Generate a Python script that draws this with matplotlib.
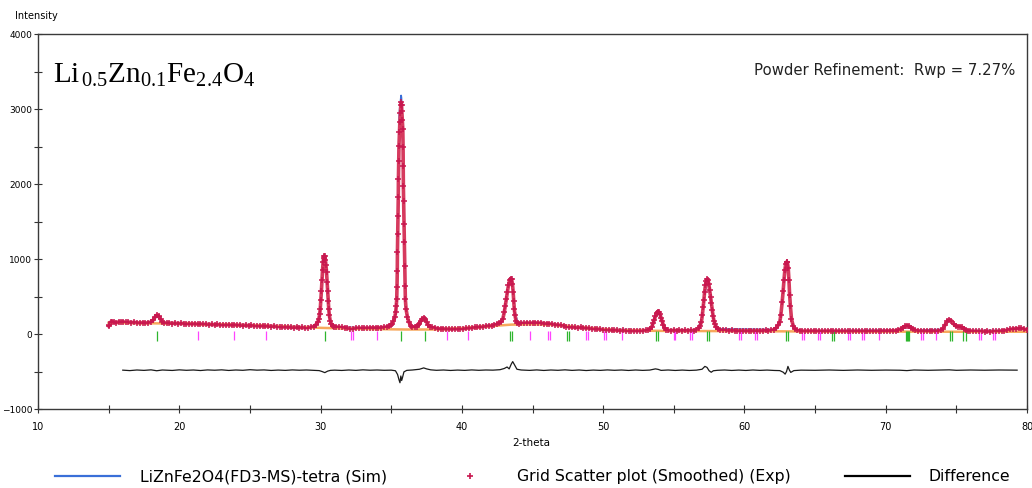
import matplotlib
matplotlib.use("Agg")
import matplotlib.pyplot as plt
from matplotlib.lines import Line2D
import numpy as np

plt.rcParams['mathtext.fontset'] = 'custom'
plt.rcParams['mathtext.rm'] = 'Liberation Serif'
plt.rcParams['mathtext.it'] = 'Liberation Serif:italic'
plt.rcParams['font.family'] = 'DejaVu Sans'

exp_pts = [
    (15.00, 105), (15.06, 120), (15.15, 160), (15.25, 165), (15.40, 158), (15.55, 150), (15.70, 162),
    (15.85, 158), (16.00, 165), (16.20, 155), (16.40, 160), (16.60, 152), (16.80, 156), (17.00, 150),
    (17.20, 148), (17.40, 152), (17.60, 147), (17.80, 150), (18.00, 160), (18.15, 185), (18.30, 230),
    (18.42, 253), (18.55, 235), (18.68, 195), (18.80, 165), (18.95, 150), (19.10, 145), (19.30, 148),
    (19.50, 140), (19.70, 145), (19.90, 138), (20.10, 142), (20.30, 140), (20.50, 135), (20.70, 140),
    (20.90, 133), (21.10, 138), (21.30, 130), (21.50, 135), (21.70, 128), (21.90, 132), (22.10, 125),
    (22.30, 130), (22.50, 122), (22.70, 128), (22.90, 120), (23.10, 125), (23.30, 120), (23.50, 126),
    (23.70, 118), (23.90, 124), (24.10, 115), (24.30, 120), (24.50, 113), (24.70, 118), (24.90, 110),
    (25.10, 115), (25.30, 108), (25.50, 112), (25.70, 105), (25.90, 110), (26.10, 103), (26.30, 108),
    (26.50, 100), (26.70, 104), (26.90, 97), (27.10, 100), (27.30, 92), (27.50, 96), (27.70, 88),
    (27.90, 92), (28.10, 85), (28.30, 90), (28.50, 84), (28.70, 88), (28.90, 82), (29.10, 86),
    (29.30, 90), (29.50, 100), (29.65, 120), (29.80, 160), (29.88, 200), (29.94, 270), (29.98, 340),
    (30.02, 450), (30.06, 580), (30.10, 720), (30.14, 850), (30.18, 960), (30.22, 1020), (30.26, 1040),
    (30.30, 1035), (30.34, 990), (30.38, 920), (30.42, 830), (30.46, 700), (30.50, 570), (30.54, 440),
    (30.58, 330), (30.62, 250), (30.68, 180), (30.75, 140), (30.85, 110), (30.95, 100), (31.10, 95),
    (31.30, 90), (31.50, 88), (31.70, 84), (31.90, 80), (32.10, 70), (32.30, 72), (32.50, 78),
    (32.70, 80), (32.90, 76), (33.10, 80), (33.30, 78), (33.50, 82), (33.70, 85), (33.90, 80),
    (34.10, 84), (34.30, 86), (34.50, 90), (34.70, 95), (34.85, 105), (35.00, 125), (35.08, 135),
    (35.16, 170), (35.25, 222), (35.32, 300), (35.36, 380), (35.39, 467), (35.41, 622), (35.43, 844),
    (35.44, 1089), (35.46, 1333), (35.48, 1578), (35.50, 1822), (35.51, 2067), (35.53, 2311),
    (35.55, 2511), (35.58, 2689), (35.61, 2822), (35.65, 2950), (35.68, 3050), (35.71, 3090),
    (35.73, 3060), (35.75, 2978), (35.79, 2850), (35.82, 2733), (35.84, 2489), (35.85, 2244),
    (35.86, 1978), (35.88, 1778), (35.91, 1467), (35.93, 1222), (35.96, 911), (35.98, 644),
    (36.00, 467), (36.05, 333), (36.15, 222), (36.25, 160), (36.38, 111), (36.50, 95), (36.65, 92),
    (36.80, 100), (36.90, 115), (37.00, 140), (37.10, 175), (37.20, 205), (37.30, 215), (37.40, 200),
    (37.50, 160), (37.60, 125), (37.75, 100), (37.90, 88), (38.10, 80), (38.30, 72), (38.50, 68),
    (38.70, 70), (38.90, 65), (39.10, 68), (39.30, 64), (39.50, 70), (39.70, 66), (39.90, 72),
    (40.10, 70), (40.30, 76), (40.50, 80), (40.70, 85), (40.90, 88), (41.10, 92), (41.30, 95),
    (41.50, 98), (41.70, 102), (41.90, 108), (42.10, 112), (42.30, 120), (42.50, 130), (42.65, 145),
    (42.77, 160), (42.90, 200), (43.00, 289), (43.08, 380), (43.15, 467), (43.22, 560), (43.30, 650),
    (43.38, 715), (43.45, 740), (43.52, 730), (43.58, 670), (43.63, 560), (43.67, 440), (43.71, 333),
    (43.76, 250), (43.83, 178), (43.92, 150), (44.06, 140), (44.20, 145), (44.40, 142), (44.60, 150),
    (44.80, 145), (45.00, 148), (45.20, 150), (45.40, 145), (45.60, 148), (45.80, 140), (46.00, 138),
    (46.20, 135), (46.40, 130), (46.60, 126), (46.80, 120), (47.00, 115), (47.20, 108), (47.40, 100),
    (47.60, 95), (47.80, 92), (48.00, 90), (48.20, 85), (48.40, 88), (48.60, 82), (48.80, 80),
    (49.00, 76), (49.20, 72), (49.40, 70), (49.60, 66), (49.80, 62), (50.00, 60), (50.20, 58),
    (50.40, 55), (50.60, 52), (50.80, 48), (51.00, 50), (51.20, 46), (51.40, 48), (51.60, 44),
    (51.80, 46), (52.00, 42), (52.20, 45), (52.40, 42), (52.60, 46), (52.80, 44), (53.00, 48),
    (53.20, 52), (53.35, 70), (53.45, 100), (53.55, 150), (53.62, 190), (53.70, 240), (53.78, 280),
    (53.86, 300), (53.94, 295), (54.02, 265), (54.10, 215), (54.18, 170), (54.26, 120), (54.35, 75),
    (54.45, 55), (54.60, 48), (54.80, 45), (55.00, 50), (55.20, 46), (55.40, 48), (55.60, 44),
    (55.80, 47), (56.00, 45), (56.20, 48), (56.40, 46), (56.60, 55), (56.75, 75), (56.85, 110),
    (56.95, 156), (57.02, 250), (57.08, 360), (57.13, 450), (57.18, 560), (57.24, 650), (57.30, 710),
    (57.36, 730), (57.42, 720), (57.48, 670), (57.54, 590), (57.60, 500), (57.66, 410), (57.72, 320),
    (57.78, 240), (57.84, 180), (57.90, 140), (58.00, 90), (58.13, 67), (58.30, 52), (58.50, 48),
    (58.70, 50), (58.90, 45), (59.10, 48), (59.30, 44), (59.50, 46), (59.70, 42), (59.90, 45),
    (60.10, 40), (60.30, 44), (60.50, 41), (60.70, 45), (60.90, 42), (61.10, 46), (61.30, 43),
    (61.50, 47), (61.70, 44), (61.90, 50), (62.10, 58), (62.25, 80), (62.38, 115), (62.50, 156),
    (62.58, 260), (62.67, 422), (62.74, 570), (62.80, 720), (62.86, 850), (62.92, 930), (62.98, 960),
    (63.04, 955), (63.10, 880), (63.15, 720), (63.20, 520), (63.25, 380), (63.33, 200), (63.45, 110),
    (63.57, 67), (63.70, 50), (63.90, 42), (64.10, 40), (64.30, 38), (64.50, 42), (64.70, 38),
    (64.90, 41), (65.10, 37), (65.30, 40), (65.50, 36), (65.70, 40), (65.90, 38), (66.10, 42),
    (66.30, 37), (66.50, 40), (66.70, 36), (66.90, 39), (67.10, 35), (67.30, 38), (67.50, 35),
    (67.70, 39), (67.90, 36), (68.10, 40), (68.30, 35), (68.50, 38), (68.70, 34), (68.90, 37),
    (69.10, 35), (69.30, 39), (69.50, 36), (69.70, 40), (69.90, 38), (70.10, 42), (70.30, 40),
    (70.50, 45), (70.70, 44), (70.90, 52), (71.05, 65), (71.20, 85), (71.35, 102), (71.50, 112),
    (71.65, 105), (71.80, 85), (71.95, 62), (72.10, 48), (72.30, 42), (72.50, 40), (72.70, 38),
    (72.90, 40), (73.10, 37), (73.30, 40), (73.50, 38), (73.70, 42), (73.90, 48), (74.05, 70),
    (74.20, 120), (74.35, 170), (74.50, 190), (74.65, 178), (74.80, 135), (74.95, 108), (75.10, 100),
    (75.25, 98), (75.40, 90), (75.55, 70), (75.70, 52), (75.85, 44), (76.00, 40), (76.20, 36),
    (76.40, 38), (76.60, 34), (76.80, 37), (77.00, 33), (77.20, 36), (77.40, 32), (77.60, 35),
    (77.80, 34), (78.00, 38), (78.20, 40), (78.40, 45), (78.60, 52), (78.80, 62), (79.00, 68),
    (79.20, 72), (79.40, 74), (79.60, 76), (79.80, 66), (80.00, 55),
]

# simulated profile (blue)
sim_pts = [
    (15.0, 150), (18.0, 150), (18.2, 190), (18.42, 250), (18.65, 190), (18.9, 148), (22.0, 128),
    (26.0, 108), (29.5, 92), (29.8, 140), (29.94, 260), (30.02, 440), (30.10, 700), (30.18, 950),
    (30.26, 1050), (30.34, 1000), (30.42, 830), (30.50, 580), (30.58, 340), (30.66, 200), (30.8, 120),
    (31.0, 95), (33.0, 80), (34.8, 95), (35.1, 140), (35.25, 225), (35.35, 350), (35.42, 700),
    (35.46, 1300), (35.50, 1900), (35.53, 2400), (35.57, 2900), (35.62, 3050), (35.66, 3100),
    (35.70, 3180), (35.72, 3150), (35.75, 3000), (35.80, 2800), (35.84, 2450), (35.87, 1950),
    (35.90, 1500), (35.95, 950), (36.00, 480), (36.06, 320), (36.16, 210), (36.35, 115), (36.6, 92),
    (36.9, 112), (37.1, 175), (37.3, 215), (37.5, 160), (37.75, 98), (38.2, 75), (40.0, 70),
    (42.5, 130), (42.9, 200), (43.1, 420), (43.3, 660), (43.45, 745), (43.6, 620), (43.75, 300),
    (43.95, 150), (45.0, 148), (47.0, 115), (50.0, 60), (53.2, 52), (53.45, 100), (53.7, 240),
    (53.88, 300), (54.1, 210), (54.35, 75), (54.6, 48), (56.6, 55), (56.95, 160), (57.13, 450),
    (57.36, 735), (57.6, 500), (57.84, 180), (58.13, 67), (62.1, 58), (62.5, 160), (62.74, 570),
    (62.98, 965), (63.15, 720), (63.33, 200), (63.57, 67), (64.0, 40), (70.9, 50), (71.5, 112),
    (72.1, 48), (74.0, 60), (74.5, 192), (74.95, 108), (75.4, 90), (75.85, 44), (78.4, 45),
    (79.4, 74), (80.0, 55),
]

# background (orange)
bg_tt = [15.0, 17.0, 20.0, 25.0, 28.0, 30.0, 32.0, 34.0, 36.0, 38.0, 40.0, 42.0, 43.5, 45.0,
         46.5, 48.0, 50.0, 52.0, 55.0, 60.0, 65.0, 70.0, 75.0, 80.0]
bg_int = [150, 145, 138, 115, 95, 82, 72, 65, 60, 60, 75, 105, 125, 130,
          122, 95, 60, 45, 40, 38, 33, 32, 30, 30]

# difference curve
diff_pts = [
    (16.0, -482), (16.5, -488), (17.0, -480), (17.5, -485), (18.0, -478), (18.4, -490), (18.8, -480),
    (19.5, -486), (20.0, -478), (20.5, -484), (21.0, -480), (21.5, -487), (22.0, -479), (22.5, -483),
    (23.0, -478), (23.5, -486), (24.0, -480), (24.5, -484), (25.0, -476), (25.5, -482), (26.0, -479),
    (26.5, -486), (27.0, -481), (27.5, -485), (28.0, -479), (28.5, -483), (29.0, -480), (29.5, -484),
    (29.9, -488), (30.1, -500), (30.3, -515), (30.5, -495), (30.7, -485), (31.0, -482), (31.5, -486),
    (32.0, -480), (32.5, -485), (33.0, -478), (33.5, -483), (34.0, -480), (34.5, -484), (35.0, -482),
    (35.3, -490), (35.45, -540), (35.55, -610), (35.62, -650), (35.68, -560), (35.74, -620),
    (35.8, -580), (35.9, -505), (36.1, -485), (36.5, -480), (37.0, -470), (37.3, -452), (37.5, -465),
    (37.8, -478), (38.2, -484), (38.7, -480), (39.2, -486), (39.7, -481), (40.2, -485), (40.7, -479),
    (41.2, -484), (41.7, -480), (42.2, -482), (42.7, -476), (43.0, -460), (43.2, -440), (43.35, -465),
    (43.5, -400), (43.6, -368), (43.75, -420), (43.9, -470), (44.2, -480), (44.8, -485), (45.3, -479),
    (45.8, -486), (46.3, -480), (46.8, -484), (47.3, -478), (47.8, -485), (48.3, -480), (48.8, -487),
    (49.3, -481), (49.8, -485), (50.3, -479), (50.8, -484), (51.3, -480), (51.8, -486), (52.3, -480),
    (52.8, -485), (53.3, -481), (53.7, -465), (53.9, -472), (54.1, -485), (54.6, -480), (55.1, -486),
    (55.6, -481), (56.1, -486), (56.6, -482), (57.0, -470), (57.2, -432), (57.35, -445), (57.5, -490),
    (57.65, -510), (57.8, -490), (58.1, -484), (58.6, -480), (59.1, -486), (59.6, -481), (60.1, -486),
    (60.6, -480), (61.1, -485), (61.6, -481), (62.1, -486), (62.5, -488), (62.75, -510), (62.88, -535),
    (62.98, -500), (63.08, -432), (63.18, -480), (63.28, -512), (63.5, -488), (64.0, -482), (65.0, -484),
    (66.0, -480), (67.0, -485), (68.0, -480), (69.0, -484), (70.0, -481), (71.0, -483), (71.5, -488),
    (72.0, -480), (73.0, -484), (74.0, -480), (74.5, -478), (75.0, -484), (76.0, -480), (77.0, -483),
    (78.0, -480), (79.3, -482),
]

# reflection positions of the two phases
green_ticks = [18.44, 30.28, 35.72, 37.40, 43.38, 43.52, 47.45, 47.59, 53.76, 53.90, 57.35, 57.50,
               62.93, 63.10, 66.17, 66.36, 71.44, 71.52, 71.60, 71.68, 74.52, 74.70, 75.49, 75.68]
magenta_ticks = [21.33, 23.85, 26.17, 32.18, 32.32, 34.02, 38.94, 40.47, 44.85, 46.12, 46.26,
                 48.79, 48.91, 50.05, 50.19, 51.35, 54.99, 55.11, 56.15, 56.29, 59.62, 59.77,
                 60.76, 60.90, 64.04, 64.21, 65.18, 65.32, 67.30, 67.49, 68.30, 68.46, 69.53,
                 72.50, 72.67, 73.55, 76.57, 76.74, 77.59, 77.75]

exp_tt, exp_int = zip(*exp_pts)
sim_tt, sim_int = zip(*sim_pts)
diff_tt, diff_int = zip(*diff_pts)

red = '#C8174F'
blue = '#3A6FD8'
orange = '#F7A85C'

fig = plt.figure(figsize=(10.32, 4.89), dpi=100)
ax = fig.add_axes([38 / 1032, 1 - 410 / 489, 989 / 1032, 375 / 489])

ax.plot(sim_tt, sim_int, color=blue, lw=1.3, zorder=2)
ax.plot(exp_tt, exp_int, color='#D63A5E', lw=2.6, zorder=3, solid_capstyle='round')
ax.plot(bg_tt, bg_int, color=orange, lw=1.8, zorder=4)
ax.plot(exp_tt, exp_int, ls='none', marker='+', ms=4.5, mew=1.1, color=red, zorder=5)
ax.plot(diff_tt, diff_int, color='#1a1a1a', lw=0.9, zorder=3)
ax.vlines(green_ticks, -90, 35, colors='#2DB52D', lw=0.9, zorder=4)
ax.vlines(magenta_ticks, -85, 35, colors='#FF44FF', lw=0.9, zorder=4)

ax.set_xlim(10, 80)
ax.set_ylim(-1000, 4000)
ax.set_xticks(np.arange(10, 81, 10))
ax.set_xticks(np.arange(15, 80, 10), minor=True)
ax.set_yticks(np.arange(-1000, 4001, 1000))
ax.set_yticks(np.arange(-500, 4000, 1000), minor=True)
ax.tick_params(which='both', direction='inout', length=6, width=0.8, color='#333333')
ax.tick_params(axis='x', labelsize=7, pad=6)
ax.tick_params(axis='y', labelsize=6.5, pad=1)
ax.tick_params(top=False, right=False)
for s in ax.spines.values():
    s.set_color('#3a3a3a')
    s.set_linewidth(1.0)

fig.text(15 / 1032, 1 - 16 / 489, 'Intensity', fontsize=7, va='center', ha='left')
fig.text(531 / 1032, 1 - 443 / 489, '2-theta', fontsize=7.5, va='center', ha='center')
fig.text(1015 / 1032, 1 - 70 / 489, 'Powder Refinement:  Rwp = 7.27%', fontsize=10.7,
         va='center', ha='right', color='#222222')
fig.text(53 / 1032, 1 - 83 / 489,
         r'$\mathrm{Li}_{\,0.5}\mathrm{Zn}_{0.1}\mathrm{Fe}_{2.4}\mathrm{O}_{4}$',
         fontsize=21, va='baseline', ha='left')

# legend row
ly = 1 - 477 / 489
fs_leg = 11.3
fig.add_artist(Line2D([55 / 1032, 120 / 1032], [ly, ly], color=blue, lw=1.6))
fig.text(140 / 1032, ly, 'LiZnFe2O4(FD3-MS)-tetra (Sim)', fontsize=fs_leg, va='center')
fig.add_artist(Line2D([470 / 1032], [ly], marker='+', ms=4, mew=1.2, color=red, ls='none'))
fig.text(517 / 1032, ly, 'Grid Scatter plot (Smoothed) (Exp)', fontsize=fs_leg, va='center')
fig.add_artist(Line2D([845 / 1032, 910 / 1032], [ly, ly], color='black', lw=1.6))
fig.text(928 / 1032, ly, 'Difference', fontsize=fs_leg, va='center')

fig.savefig('out.png', dpi=100)
